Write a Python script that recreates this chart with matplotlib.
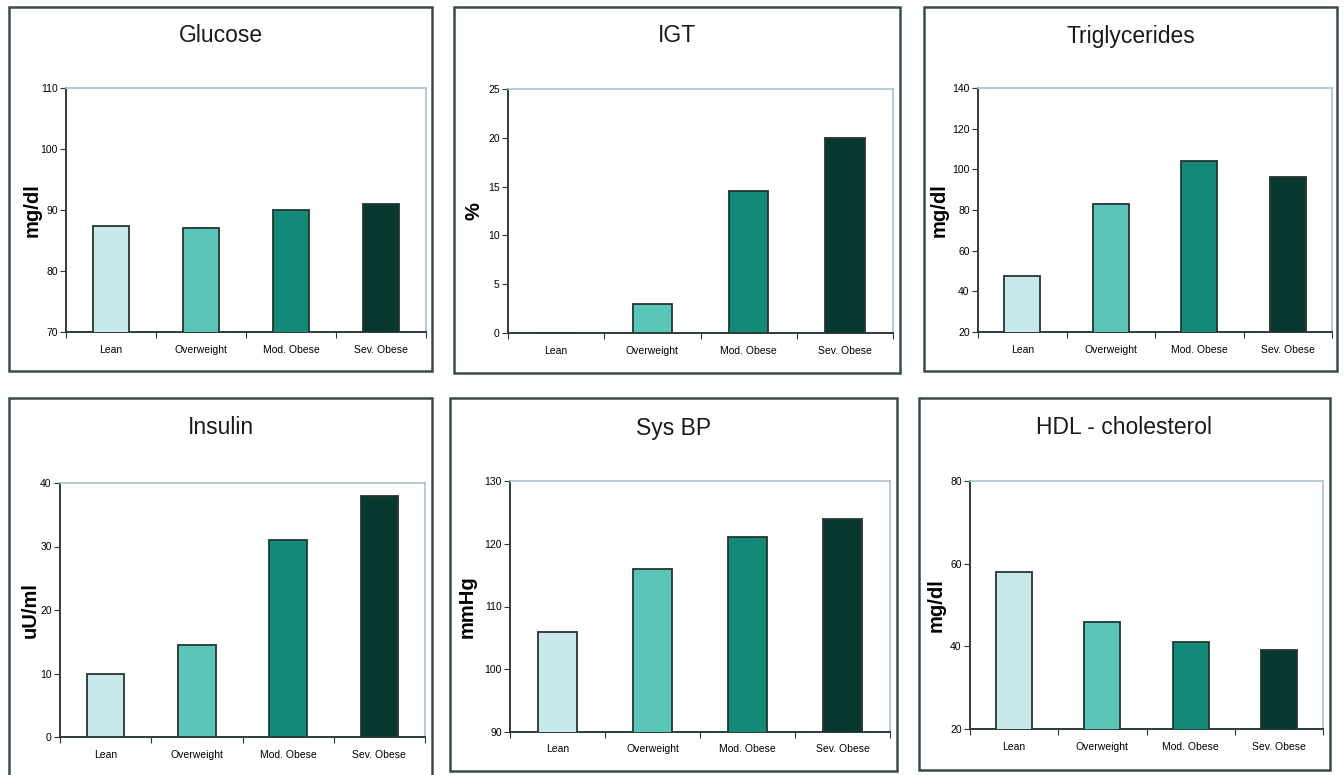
import matplotlib.pyplot as plt
from matplotlib.patches import Rectangle

W, H = 1344, 775

categories = ["Lean", "Overweight", "Mod. Obese", "Sev. Obese"]
bar_colors = ["#c9e8ec", "#5bc5b8", "#138a77", "#08382f"]

titles = ["Glucose", "IGT", "Triglycerides", "Insulin", "Sys BP", "HDL - cholesterol"]
ylabels = ["mg/dl", "%", "mg/dl", "uU/ml", "mmHg", "mg/dl"]

glucose = [87.4, 87.0, 90.0, 91.0]
igt = [0.0, 3.0, 14.5, 20.0]
triglycerides = [47.5, 83.0, 104.0, 96.0]
insulin = [10.0, 14.5, 31.0, 38.0]
sys_bp = [106.0, 116.0, 121.0, 124.0]
hdl = [58.0, 46.0, 41.0, 39.0]

ylims = [(70, 110), (0, 25), (20, 140), (0, 40), (90, 130), (20, 80)]
ysteps = [10, 5, 20, 10, 10, 20]

series = [glucose, igt, triglycerides, insulin, sys_bp, hdl]

# panel frames and axes areas in pixels (left, top, right, bottom)
boxes = [(9, 7, 432, 371), (454, 7, 900, 373), (924, 7, 1337, 371),
         (9, 398, 432, 790), (450, 398, 897, 771), (919, 398, 1330, 770)]
axes_px = [(66, 88, 426, 332), (508, 89, 893, 333), (978, 88, 1332, 332),
           (60, 483, 425, 737), (510, 481, 890, 732), (970, 481, 1323, 729)]
title_y = [36, 36, 36, 428, 428, 428]
ylabel_x = [32, 474, 939, 30, 467, 936]

fig = plt.figure(figsize=(W / 100, H / 100), dpi=100)
plt.rcParams['font.family'] = ['Liberation Sans', 'DejaVu Sans']

for i in range(6):
    bx0, by0, bx1, by1 = boxes[i]
    fig.add_artist(Rectangle((bx0 / W, 1 - by1 / H), (bx1 - bx0) / W, (by1 - by0) / H,
                             transform=fig.transFigure, fill=False,
                             edgecolor="#3b4a4a", linewidth=1.8))
    fig.text((bx0 + bx1) / 2 / W, 1 - title_y[i] / H, titles[i],
             ha="center", va="center", fontsize=16.5, color="#1a1a1a")

    l, t, r, b = axes_px[i]
    ax = fig.add_axes([l / W, 1 - b / H, (r - l) / W, (b - t) / H])
    x = [k + 0.5 for k in range(4)]
    ax.bar(x, series[i], width=0.41, bottom=0, color=bar_colors,
           edgecolor="#253530", linewidth=1.3, zorder=3)
    lo, hi = ylims[i]
    ax.set_ylim(lo, hi)
    ax.set_xlim(0, 4)
    ax.set_yticks(range(lo, hi + 1, ysteps[i]))
    ax.set_xticks([0, 1, 2, 3, 4])
    ax.set_xticklabels([])
    ax.set_xticks(x, minor=True)
    ax.set_xticklabels(categories, minor=True, fontsize=7.5)
    ax.tick_params(axis="x", which="minor", length=0, pad=9)
    ax.tick_params(axis="x", which="major", direction="out", length=4, color="#333333")
    ax.tick_params(axis="y", direction="out", length=4, labelsize=7.5, pad=2, color="#333333")
    for s in ["left", "bottom"]:
        ax.spines[s].set_color("#2e3b3b")
        ax.spines[s].set_linewidth(1.4)
    for s in ["top", "right"]:
        ax.spines[s].set_color("#a8c4cf")
        ax.spines[s].set_linewidth(1.2)
    ax.set_ylabel(ylabels[i], fontsize=14.5, fontweight="bold", va="center")
    ax.yaxis.set_label_coords((ylabel_x[i] - l) / (r - l), 0.5)

fig.savefig("out.png", dpi=100)
